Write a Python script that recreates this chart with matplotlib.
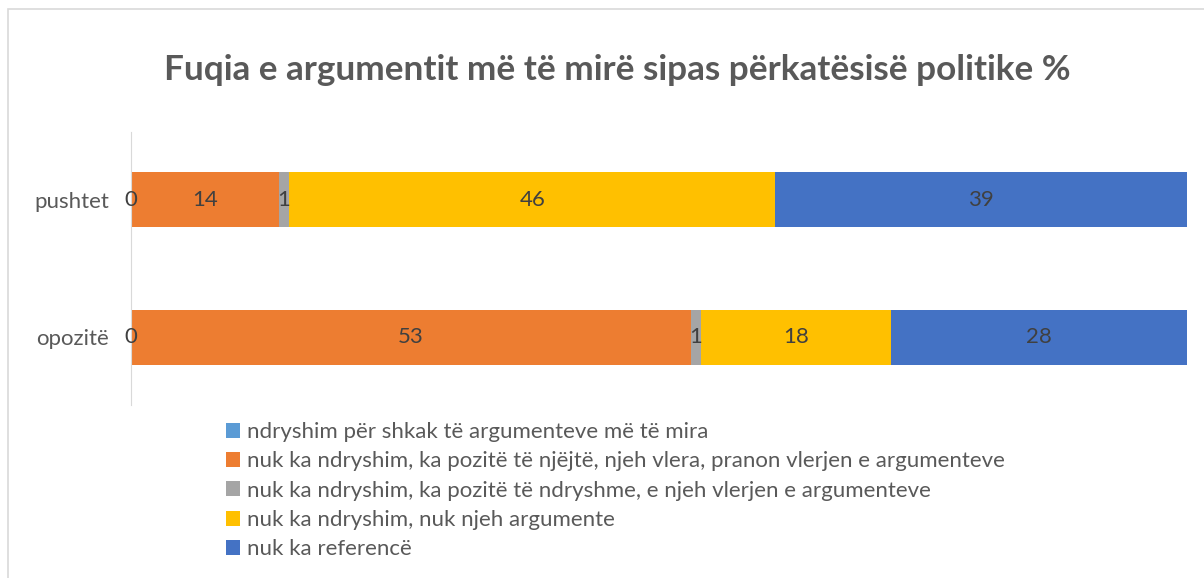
import matplotlib
matplotlib.use("Agg")
import matplotlib.pyplot as plt
from matplotlib.patches import Rectangle, Patch

plt.rcParams['font.family'] = ['Lato', 'DejaVu Sans']

categories = ['opozitë', 'pushtet']
series_names = ['ndryshim për shkak të argumenteve më të mira',
                'nuk ka ndryshim, ka pozitë të njëjtë, njeh vlera, pranon vlerjen e argumenteve',
                'nuk ka ndryshim, ka pozitë të ndryshme, e njeh vlerjen e argumenteve',
                'nuk ka ndryshim, nuk njeh argumente',
                'nuk ka referencë']
# values per series, in category order (opozitë, pushtet)
ndryshim = [0, 0]
njejte = [53, 14]
ndryshme = [1, 1]
nuk_njeh = [18, 46]
referenca = [28, 39]
colors = ['#5B9BD5', '#ED7D31', '#A5A5A5', '#FFC000', '#4472C4']

fig = plt.figure(figsize=(12.04, 5.78), dpi=100)
fig.patches.append(Rectangle((8 / 1204, -0.1), 1.2, 1.1 - 9 / 578, transform=fig.transFigure,
                             fill=False, edgecolor='#D9D9D9', linewidth=1.2))

ax = fig.add_axes([131 / 1204, 1 - 405 / 578, (1187 - 131) / 1204, (405 - 132) / 578])
ypos = range(len(categories))
left = [0] * len(categories)
for vals, col in zip([ndryshim, njejte, ndryshme, nuk_njeh, referenca], colors):
    ax.barh(ypos, vals, left=left, height=0.4, color=col)
    for y, v, l in zip(ypos, vals, left):
        ax.text(l + v / 2, y, str(v), ha='center', va='center', fontsize=16, color='#404040')
    left = [a + b for a, b in zip(left, vals)]

ax.set_xlim(0, 100)
ax.set_ylim(-0.49, 1.49)
ax.set_yticks(list(ypos))
ax.set_yticklabels(categories, fontsize=16, color='#595959')
ax.tick_params(axis='y', length=0, pad=16)
ax.set_xticks([])
for s in ['top', 'right', 'bottom']:
    ax.spines[s].set_visible(False)
ax.spines['left'].set_color('#D9D9D9')

fig.text(0.513, 1 - 70 / 578, 'Fuqia e argumentit më të mirë sipas përkatësisë politike %',
         ha='center', va='center', fontsize=25.3, fontweight='bold', color='#595959')

handles = [Patch(facecolor=c) for c in colors]
leg = fig.legend(handles, series_names, loc='upper left', bbox_to_anchor=(226 / 1204, 1 - 422 / 578),
                 frameon=False, fontsize=16, handlelength=0.65, handleheight=0.65,
                 handletextpad=0.3, labelspacing=0.42, borderpad=0, borderaxespad=0)
for t in leg.get_texts():
    t.set_color('#595959')

fig.savefig('out.png', dpi=100)
